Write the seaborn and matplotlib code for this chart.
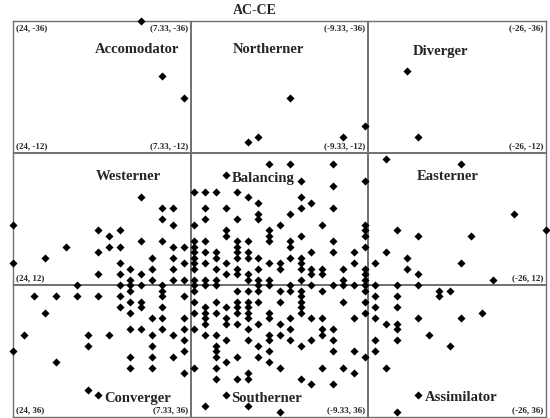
import matplotlib
matplotlib.use("Agg")
import seaborn as sns
import pandas as pd
from matplotlib import pyplot as plt

# style-space scores (AC-CE across, AE-RO down)
ac_ce = [12, 10, 8, 2, 1, -2, -7, -9, -13, -14, -11,
         12, 10, 9, 10, 9, 24, 16, 14, 15, 12, 10, 19, 15, 14, 9, 8, 16, 21, 11, 9, 24, 14, 8,
         13, 11, 9, 16, 14, 12, 13, 11, 9, 8, 18, 14, 13, 12, 10,
         0, -2, -6, 4, -3, -9, -6, 7, 6, 5, 3, 2, -3, 1, -4, 6, 4, -3, -6, 1, -2, 6, 3, 1,
         7, -1, -5, -9, 4, 0, -9, 4, 0, -3, -9, 7, 6, 3, 2, 0, -2, -6, 7, 3, -2, -9,
         7, 6, 5, 3, 2, -4, -6, -8, 7, 5, 3, 2, 1, -2, -3, 7, 6, 4, 0, -1, -3, -8,
         7, 5, 3, 1, -1, -3, -4, -5, -7, -9, 4, 3, 2, -4, -5, -9, 7, 6, 5, 2, 1, 0, -3, -7, -9,
         7, 6, 5, 1, 0, -2, -4, -6, -7, -8, -9,
         -18, -23, -12, -26, -14, -19, -11, -13, -10, -18, -13, -14, -21, -10, -12, -14,
         13, 10, 22, 20, 18, 16, 14, 10, 8, 13, 12, 14, 12, 10, 21, 13, 11, 10, 8, 13, 12, 10, 8,
         23, 17, 15, 11, 9, 8, 17, 11, 24, 8, 13, 11, 9, 20, 13, 11, 8, 17, 16,
         7, 3, 2, 1, -1, -2, -3, -5, -9, -3, 7, 5, 3, 2, 1, -1, -3, -7, -9, 6, 4, 3, 2, -3,
         7, 6, 5, 3, 2, 0, -3, -9, 6, 4, 2, 0, -2, -4, -5, -8, 6, 4, 3, 1, -1,
         7, 2, -2, -5, -6, 6, 5, 0, -1, -5, 4, 2, 0, -2, -4, -6, 5, 1, -3, 5, 0, -6, -8,
         5, 3, 1, -9, 4, 0, 7, 5, -1, -5, -7, 2, -8, 5, 3, 2, -3, -4, -6, 4, 6, 2, -1,
         -16, -17, -10, -12, -16, -10, -12, -20, -10, -14, -18, -11, -12, -12, -15, -10, -12,
         -17, -10, -11, -14, -12]
ae_ro = [-36, -26, -22, -14, -15, -22, -15, -17, -27, -15, -11,
         -4, -2, -2, 0, 1, 1, 2, 2, 3, 4, 4, 5, 5, 5, 5, 5, 6, 7, 7, 7, 8, 8, 8,
         9, 9, 9, 10, 10, 10, 11, 11, 11, 11, 12, 12, 12, 12, 12,
         -10, -10, -10, -8, -7, -7, -6, -5, -5, -5, -5, -4, -4, -3, -3, -2, -2, -2, -2, -1, -1, 0, 0, 0,
         1, 1, 1, 1, 2, 2, 2, 3, 3, 3, 3, 4, 4, 4, 4, 4, 4, 4, 5, 5, 5, 5,
         6, 6, 6, 6, 6, 6, 6, 6, 7, 7, 7, 7, 7, 7, 7, 8, 8, 8, 8, 8, 8, 8,
         9, 9, 9, 9, 9, 9, 9, 9, 9, 9, 10, 10, 10, 10, 10, 10, 11, 11, 11, 11, 11, 11, 11, 11, 11,
         12, 12, 12, 12, 12, 12, 12, 12, 12, 12, 12,
         -10, -1, 2, 2, 3, 3, 6, 7, 8, 8, 9, 10, 11, 12, 12, 12,
         13, 13, 14, 14, 14, 14, 14, 14, 14, 15, 15, 16, 16, 16, 17, 17, 18, 18, 18, 20, 20, 20, 20,
         21, 21, 21, 21, 21, 22, 23, 23, 24, 24, 25, 25, 25, 26, 27, 27, 28, 31, 32,
         13, 13, 13, 13, 13, 13, 13, 13, 13, 14, 15, 15, 15, 15, 15, 15, 15, 15, 15, 16, 16, 16, 16, 16,
         17, 17, 17, 17, 17, 17, 17, 17, 18, 18, 18, 18, 18, 18, 18, 18, 19, 19, 19, 19, 19,
         20, 20, 20, 20, 20, 21, 21, 21, 21, 21, 22, 22, 22, 22, 22, 22, 23, 23, 23, 24, 24, 24, 24,
         25, 25, 25, 25, 26, 26, 27, 27, 27, 27, 27, 28, 28, 29, 29, 29, 29, 30, 30, 32, 34, 34, 35,
         13, 13, 14, 14, 14, 16, 16, 17, 18, 18, 18, 19, 19, 20, 21, 22, 22,
         23, 24, 27, 32, 35]

x_cuts = [24, 7.33, -9.33, -26]
y_cuts = [-36, -12, 12, 36]
cut_labels = ["24", "7.33", "-9.33", "-26"]

style_names = ["Accomodator", "Northerner", "Diverger",
               "Westerner", "Balancing", "Easterner",
               "Converger", "Southerner", "Assimilator"]
name_x = [12.4, 0.0, -16.1, 13.2, 0.5, -16.8, 15.4, 3.5, -14.6]
name_y = [-30.9, -30.9, -30.5, -7.8, -7.3, -7.8, 32.6, 32.7, 32.4]
name_ha = ["center"] * 6 + ["left"] * 3

df = pd.DataFrame({"AC-CE": ac_ce, "AE-RO": ae_ro})

sns.set_style("white")
plt.rcParams["font.family"] = ["Liberation Serif", "DejaVu Serif"]

fig = plt.figure(figsize=(5.5, 4.18), dpi=100)
ax = fig.add_axes([13 / 550, 1 / 418, 533 / 550, 396 / 418])

frame_col = "#707070"
for v in x_cuts[1:3]:
    ax.axvline(v, color=frame_col, lw=1.4, zorder=1)
for v in y_cuts[1:3]:
    ax.axhline(v, color=frame_col, lw=1.4, zorder=1)

sns.scatterplot(data=df, x="AC-CE", y="AE-RO", marker="D", color="black",
                s=17, linewidth=0, clip_on=False, zorder=3, ax=ax)

ax.set_xlim(24, -26)
ax.set_ylim(36, -36)
ax.set_xlabel("")
ax.set_ylabel("")
ax.set_xticks([])
ax.set_yticks([])
for sp in ax.spines.values():
    sp.set_color(frame_col)
    sp.set_linewidth(1.0)

# coordinates of the grid corners
for i, xv in enumerate(x_cuts):
    for j, yv in enumerate(y_cuts):
        if j == 2 and i in (1, 2):
            continue
        ha = "left" if i == 0 else "right"
        dx = 2 if i == 0 else -2
        va = "top" if j == 0 else "bottom"
        dy = -2 if j == 0 else 2
        txt = f"({cut_labels[i]}, {int(yv)})"
        ax.annotate(txt, (xv, yv), xytext=(dx, dy), textcoords="offset points",
                    ha=ha, va=va, fontsize=6.5, fontweight="bold")

for name, nx, ny, ha in zip(style_names, name_x, name_y, name_ha):
    ax.text(nx, ny, name, ha=ha, va="center", fontsize=10.5, fontweight="bold")

fig.text(255 / 550, 1 - 11 / 418, "AC-CE", ha="center", va="center",
         fontsize=10, fontweight="bold")

fig.savefig("out.png", dpi=100)
